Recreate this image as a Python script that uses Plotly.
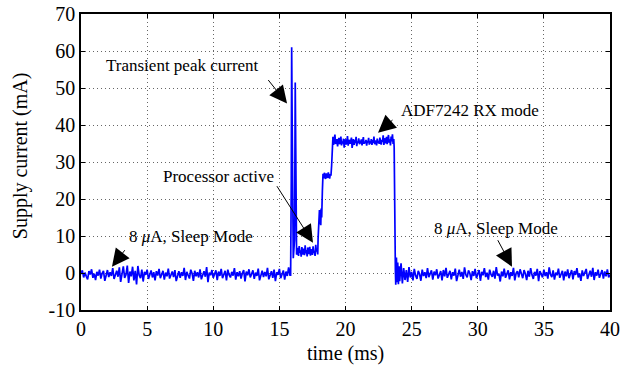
import numpy as np
import plotly.graph_objects as go

# ---------------- data ----------------
x_ticks = [0, 5, 10, 15, 20, 25, 30, 35, 40]
y_ticks = [-10, 0, 10, 20, 30, 40, 50, 60, 70]
y_tick_labels = ["-10", "0", "10", "20", "30", "40", "50", "60", "70"]

# sleep before wake-up, samples every 0.1 ms from 0.0 ms
sleep_before_t0, sleep_before_dt = 0.0, 0.1
sleep_before_mA = [
    -0.3, 0.7, -1.2, 0.1, -0.9, -1.7, 0.5, -0.4, 1.0, -1.3,
    -0.2, -1.9, 0.3, -0.7, 0.9, -1.5, -0.1, 0.6, -2.1, -0.5,
    0.8, -1.1, 0.2, -0.8, 1.3, -1.6, -0.3, 0.6, -1.0, 1.5,
    -2.4, 0.2, 1.8, -1.3, -0.5, 2.0, -2.7, 0.4, -0.9, 1.7,
    -2.0, 0.6, -3.1, 1.9, -0.6, -1.4, 0.9, -2.3, 0.3, -0.5,
    0.9, -1.6, -0.2, 0.7, -1.2, 0.2, -2.0, 0.5, -0.7, 1.1,
    -1.4, -0.3, 0.6, -1.8, 0.1, -0.9, 1.2, -1.5, -0.2, 0.4,
    -1.1, 0.8, -2.2, -0.4, 0.5, -1.3, 0.2, -0.8, 1.4, -1.9,
    0.3, -0.6, -1.5, 0.9, -0.1, -2.1, 0.6, -0.9, 0.2, -1.2,
    1.0, -1.7, -0.4, 0.5, -1.0, 1.6, -2.5, 0.1, -0.6, 0.8,
    -1.3, -0.2, 0.7, -1.9, 0.4, -0.8, 1.1, -1.4, -0.3, 0.6,
    -2.0, 0.9, -0.5, -1.2, 0.3, -0.7, 1.3, -1.8, 0.2, -0.9,
    0.5, -1.5, -0.1, 0.8, -2.3, 0.4, -0.6, 1.0, -1.2, -0.3,
    0.7, -1.6, 0.1, -0.8, 1.2, -2.0, -0.2, 0.6, -1.1, 0.3,
    -0.9, 1.4, -1.7, -0.4, 0.5, -1.3, 0.9, -2.2, 0.2, -0.5,
    1.1, -1.4, -0.3, 0.7, -1.8, 0.4, -0.8, 1.5, -0.6,
]

# wake-up transient peaks
wake_t = [15.85, 15.9, 15.93, 15.97, 16.0, 16.05, 16.1, 16.15, 16.2, 16.24, 16.28, 16.3]
wake_mA = [-0.6, 25.0, 61.0, 40.0, 8.0, 4.0, 6.5, 9.0, 51.5, 20.0, 7.0, 5.0]

# processor active plateau, every 0.05 ms from 16.35 ms
proc_t0, proc_dt = 16.35, 0.05
proc_mA = [
    5.2, 6.8, 4.6, 7.3, 5.5, 6.1, 4.4, 7.0, 5.9, 5.0,
    6.6, 4.8, 7.5, 5.3, 6.2, 4.5, 6.9, 5.7, 5.1, 7.1,
    4.7, 6.4, 5.6, 4.9, 7.2, 5.4, 6.0, 4.6, 7.6, 5.8,
    6.3, 5.0,
]

# radio start-up steps
ramp_t = [17.93, 17.96, 18.0, 18.03, 18.06, 18.1, 18.13, 18.16, 18.2, 18.25, 18.28]
ramp_mA = [9.5, 14.5, 12.6, 17.0, 13.2, 16.2, 12.9, 17.4, 15.0, 22.0, 25.8]

mid_t0, mid_dt = 18.3, 0.05
mid_mA = [26.8, 25.6, 27.1, 26.0, 25.4, 26.9, 26.2, 25.7, 27.2, 26.1, 25.5, 26.7, 26.3]

rise_t = [18.95, 19.0]
rise_mA = [29.0, 33.0]

# ADF7242 RX mode plateau, every 0.05 ms from 19.05 ms
rx_t0, rx_dt = 19.05, 0.05
rx_mA = [
    36.8, 34.6, 35.9, 37.4, 34.9, 35.3, 36.2, 34.2, 35.7, 36.5,
    34.8, 35.2, 36.9, 34.5, 35.6, 35.0, 36.3, 33.9, 35.8, 36.1,
    34.7, 35.4, 37.0, 34.4, 35.5, 36.0, 34.9, 35.7, 36.6, 33.8,
    35.3, 36.2, 34.6, 35.9, 35.1, 36.8, 34.3, 35.6, 35.2, 36.4,
    34.8, 35.8, 35.0, 36.1, 34.5, 35.4, 36.7, 34.9, 35.5, 35.1,
    36.0, 34.4, 35.7, 35.3, 36.5, 34.7, 35.6, 35.0, 36.2, 34.6,
    35.9, 35.2, 36.9, 34.8, 35.4, 35.8, 34.5, 36.3, 35.1, 35.7,
    34.9, 36.6, 35.3, 34.7, 36.0, 35.5, 37.2, 34.6, 35.8, 36.4,
    35.0, 36.8, 34.8, 35.9, 37.3, 35.2, 36.1, 34.5, 36.9, 35.6,
    37.5, 34.9, 36.2,
]

# return to sleep
fall_t = [23.68, 23.7, 23.72, 23.74, 23.77, 23.8, 23.85, 23.9, 23.95, 24.0, 24.05, 24.1, 24.15]
fall_mA = [34.0, 19.5, 22.0, 17.5, 1.0, -3.2, 4.2, -2.5, 2.8, -3.0, 1.8, -2.2, 1.2]

# sleep after, samples every 0.1 ms from 24.2 ms
sleep_after_t0, sleep_after_dt = 24.2, 0.1
sleep_after_mA = [
    2.6, -2.8, 1.3, -1.9, 0.8, -2.4, 1.6, -1.2, 0.3, -2.0,
    1.1, -0.7, -1.6, 0.6, -0.3, -2.1, 0.9, -0.8, 0.2, -1.4,
    1.3, -1.1, -0.2, 0.7, -1.8, 0.4, -0.6, 1.0, -1.5, -0.1,
    0.5, -2.0, 0.8, -0.9, 1.4, -1.3, -0.4, 0.6, -1.7, 0.2,
    -0.7, 1.2, -2.2, -0.3, 0.9, -1.0, 0.3, -1.6, 1.5, -0.5,
    -1.2, 0.7, -0.1, -1.9, 0.5, -0.8, 1.1, -1.4, -0.2, 0.8,
    -2.1, 0.3, -0.6, 1.3, -1.1, 0.1, -1.8, 0.9, -0.4, -1.0,
    0.6, -1.5, 1.6, -0.7, -0.2, -2.3, 0.4, -0.9, 1.2, -1.3,
    -0.3, 0.7, -1.7, 0.2, -0.8, 1.4, -2.0, -0.1, 0.5, -1.2,
    1.0, -0.6, -1.4, 0.8, -0.2, -1.9, 0.6, -1.0, 1.3, -0.5,
    -1.6, 0.3, -0.7, 1.1, -2.2, 0.5, -0.3, -1.2, 0.9, -0.8,
    0.2, -1.5, 1.5, -0.4, -1.1, 0.7, -1.8, 0.1, -0.6, 1.2,
    -1.3, -0.2, 0.6, -2.0, 0.4, -0.9, 1.0, -1.4, -0.3, 0.8,
    -1.7, 0.5, -0.5, 1.3, -1.2, -0.1, -2.1, 0.7, -0.8, 0.3,
    1.1, -1.6, -0.4, 0.6, -1.0, 1.4, -1.9, 0.2, -0.7, 0.9,
    -1.3, -0.2, 0.8, -1.5, 0.4, -0.9, 1.0, -1.2, -0.4,
]

# ---------------- assemble sample times ----------------
def grid(t0, dt, vals):
    return list(np.round(t0 + dt * np.arange(len(vals)), 3))

time_ms = (grid(sleep_before_t0, sleep_before_dt, sleep_before_mA) + wake_t
           + grid(proc_t0, proc_dt, proc_mA) + ramp_t
           + grid(mid_t0, mid_dt, mid_mA) + rise_t
           + grid(rx_t0, rx_dt, rx_mA) + fall_t
           + grid(sleep_after_t0, sleep_after_dt, sleep_after_mA))
current_mA = (sleep_before_mA + wake_mA + proc_mA + ramp_mA + mid_mA
              + rise_mA + rx_mA + fall_mA + sleep_after_mA)

FONT = "Liberation Serif"
TICK_SIZE = 20
TITLE_SIZE = 20
ANN_SIZE = 17

fig = go.Figure()
fig.add_trace(go.Scatter(x=time_ms, y=current_mA, mode="lines",
                         line=dict(color="#0000ff", width=1.7),
                         hoverinfo="skip"))

axis_common = dict(
    showline=True, linecolor="black", linewidth=1.5, mirror="allticks",
    ticks="inside", ticklen=4, tickcolor="black", tickwidth=1,
    showgrid=True, gridcolor="#666666", griddash="1px,3px", gridwidth=1,
    zeroline=False, automargin=False,
    tickfont=dict(family=FONT, size=TICK_SIZE, color="black"),
)
fig.update_xaxes(range=[0, 40], tickvals=x_ticks,
                 ticktext=[str(v) for v in x_ticks], **axis_common)
fig.update_yaxes(range=[-10, 70], tickvals=y_ticks, ticktext=y_tick_labels,
                 **axis_common)

# axis titles
fig.add_annotation(xref="paper", yref="paper", x=0.5, y=-0.148,
                   text="time (ms)", showarrow=False, xanchor="center",
                   yanchor="middle", font=dict(family=FONT, size=TITLE_SIZE, color="black"))
fig.add_annotation(xref="paper", yref="paper", x=-0.115, y=0.52,
                   text="Supply current (mA)", showarrow=False, textangle=-90,
                   xanchor="center", yanchor="middle",
                   font=dict(family=FONT, size=TITLE_SIZE, color="black"))

ann_font = dict(family=FONT, size=ANN_SIZE, color="black")
texts = [
    ("Transient peak current", 1.81, 56.1),
    ("ADF7242 RX mode", 24.12, 43.9),
    ("Processor active", 6.12, 26.2),
    ("8 <i>μ</i>A, Sleep Mode", 3.55, 9.9),
    ("8 <i>μ</i>A, Sleep Mode", 26.62, 12.1),
]
for txt, x, y in texts:
    fig.add_annotation(x=x, y=y, text=txt, showarrow=False, xanchor="left",
                       yanchor="middle", font=ann_font, borderpad=0)

arrows = [  # tip (data), tail offset (px)
    (15.58, 45.8, -20, -25),
    (22.46, 37.9, 16, -14),
    (17.54, 8.2, -37, -58),
    (2.34, 1.7, 14, -18),
    (32.59, 1.7, -15, -28),
]
for x, y, ax, ay in arrows:
    fig.add_annotation(x=x, y=y, ax=ax, ay=ay, text="", showarrow=True,
                       arrowhead=2, arrowsize=3.5, arrowwidth=1,
                       arrowcolor="black", standoff=0, startstandoff=0)

fig.update_layout(width=621, height=368,
                  margin=dict(l=81, r=11, t=14, b=58),
                  plot_bgcolor="white", paper_bgcolor="white",
                  showlegend=False,
                  font=dict(family=FONT, size=TICK_SIZE, color="black"))

fig.write_html("out.html", config={"displayModeBar": False},
               post_script="document.body.style.margin='0';document.body.style.overflow='hidden';")
